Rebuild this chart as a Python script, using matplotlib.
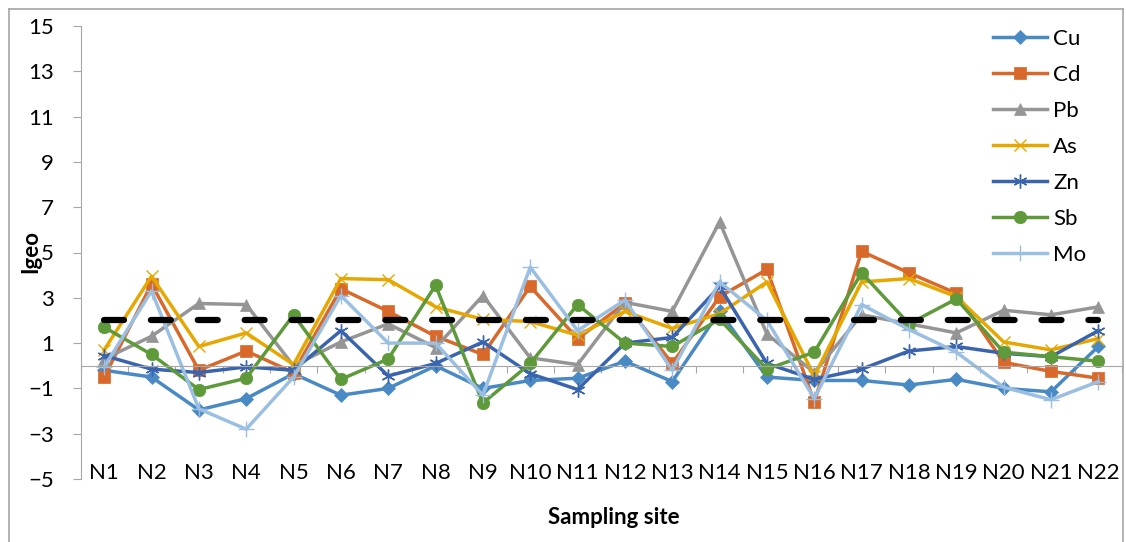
import matplotlib
matplotlib.use("Agg")
import matplotlib.pyplot as plt
from matplotlib.lines import Line2D
import numpy as np

plt.rcParams['font.family'] = ['Lato', 'DejaVu Sans']

##############
 # Data
##############

sites = [f"N{i}" for i in range(1, 23)]

cu = [-0.2, -0.5, -1.95, -1.45, -0.35, -1.3, -1.0, 0.0, -1.0, -0.65, -0.55,
      0.2, -0.7, 2.4, -0.5, -0.65, -0.65, -0.85, -0.6, -1.0, -1.15, 0.85]
cd = [-0.5, 3.6, -0.2, 0.65, -0.3, 3.4, 2.4, 1.3, 0.5, 3.5, 1.2,
      2.75, 0.1, 3.05, 4.25, -1.6, 5.05, 4.1, 3.2, 0.15, -0.25, -0.55]
pb = [0.3, 1.3, 2.75, 2.7, 0.0, 1.05, 1.85, 0.8, 3.1, 0.35, 0.05,
      2.8, 2.4, 6.35, 1.4, -0.3, 2.25, 1.85, 1.45, 2.45, 2.25, 2.6]
as_ = [0.7, 3.95, 0.85, 1.45, 0.05, 3.85, 3.8, 2.6, 2.05, 1.95, 1.35,
       2.4, 1.65, 2.3, 3.7, -0.45, 3.7, 3.85, 3.05, 1.05, 0.7, 1.2]
zn = [0.45, -0.15, -0.3, -0.05, -0.2, 1.55, -0.45, 0.1, 1.05, -0.35, -1.05,
      1.0, 1.25, 3.5, 0.1, -0.6, -0.15, 0.65, 0.85, 0.55, 0.4, 1.55]
sb = [1.7, 0.5, -1.05, -0.55, 2.25, -0.6, 0.3, 3.55, -1.65, 0.1, 2.7,
      1.0, 0.85, 2.05, -0.15, 0.6, 4.1, 1.85, 2.95, 0.6, 0.4, 0.2]
mo = [-0.05, 3.3, -1.9, -2.8, -0.5, 3.1, 1.0, 1.0, -1.3, 4.35, 1.55,
      2.9, -0.2, 3.7, 2.0, -1.45, 2.7, 1.6, 0.6, -0.95, -1.5, -0.7]
threshold = 2

series = [
    ("Cu", cu, "#4A8AC4", "D", 7),
    ("Cd", cd, "#D9692B", "s", 9),
    ("Pb", pb, "#959595", "^", 9),
    ("As", as_, "#E6A700", "x", 9),
    ("Zn", zn, "#3B64AE", (6, 2, 0), 10),
    ("Sb", sb, "#5E9A3A", "o", 9),
    ("Mo", mo, "#9BBFE3", "+", 11),
]

##############
    # Plot
##############

fig = plt.figure(figsize=(11.26, 5.42), dpi=100)
ax = fig.add_axes([80.5 / 1126, 1 - 479 / 542, (1122 - 80.5) / 1126, (479 - 26) / 542])

x = np.arange(len(sites))
for name, vals, col, mk, ms in series:
    thin = mk in ("x", "+") or isinstance(mk, tuple)
    ax.plot(x, vals, color=col, lw=2.5, marker=mk, markersize=ms,
            markeredgewidth=1.0 if thin else 0.5, markeredgecolor=col,
            markerfacecolor=col, label=name, solid_joinstyle='round')

ax.plot(x, [threshold] * len(x), color='black', lw=4.5, dashes=(3.2, 4.3),
        dash_capstyle='round', zorder=5)

ax.set_xlim(-0.5, len(sites) - 0.5)
ax.set_ylim(-5, 15)
ax.set_yticks(np.arange(-5, 16, 2))

for s in ['top', 'right']:
    ax.spines[s].set_visible(False)
ax.spines['left'].set_color('#A6A6A6')
ax.spines['bottom'].set_color('#A6A6A6')
ax.spines['bottom'].set_position(('data', 0))

ax.tick_params(axis='y', length=6, color='#A6A6A6', pad=13, labelsize=16)
ax.set_xticks(np.arange(-0.5, len(sites), 1.0))
ax.set_xticklabels([])
ax.tick_params(axis='x', direction='out', length=5, color='#A6A6A6')

for i, s in enumerate(sites):
    ax.text(i, 0.013, s, transform=ax.get_xaxis_transform(), ha='center',
            va='center', fontsize=16)

fig.text(614 / 1126, 1 - 518 / 542, "Sampling site", ha='center', va='center',
         fontsize=16, fontweight='bold')
fig.text(31 / 1126, 1 - 252 / 542, "Igeo", ha='center', va='center',
         fontsize=16, fontweight='bold', rotation=90)

ax.legend(loc='upper left', bbox_to_anchor=(993 / 1126, 1 - 29 / 542),
          bbox_transform=fig.transFigure, frameon=False, fontsize=16,
          handlelength=2.45, handletextpad=0.25, labelspacing=0.72, borderpad=0,
          borderaxespad=0)

# chart border
for xs, ys in [([9, 9], [9, 560]), ([9, 1123], [9, 9]), ([1123, 1123], [9, 560])]:
    fig.add_artist(Line2D([v / 1126 for v in xs], [1 - v / 542 for v in ys],
                          color='#A6A6A6', lw=1.2))

fig.savefig("out.png", dpi=100)
